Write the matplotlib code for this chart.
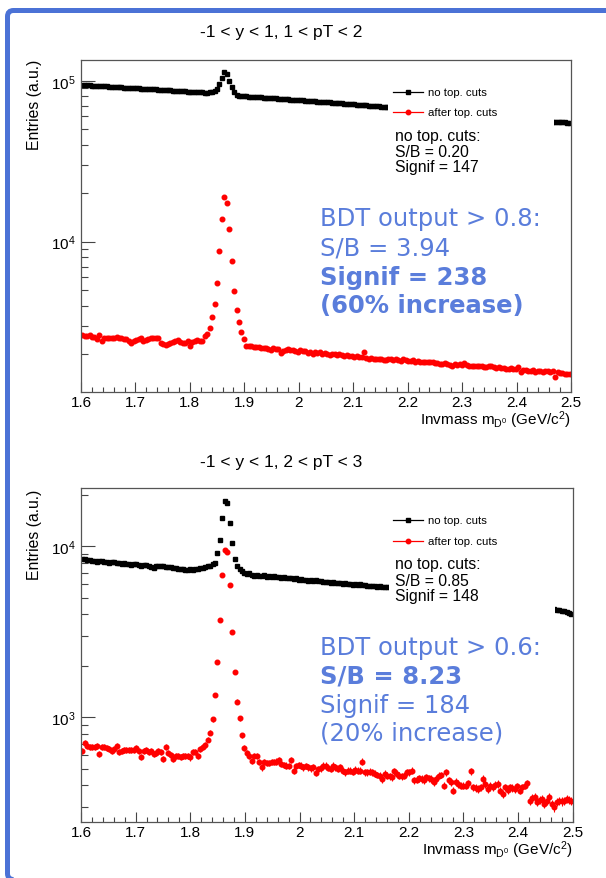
import numpy as np
import matplotlib
matplotlib.use("Agg")
import matplotlib.pyplot as plt
from matplotlib.patches import Rectangle, FancyBboxPatch
from matplotlib.lines import Line2D
from matplotlib.ticker import LogLocator, MultipleLocator, FuncFormatter, NullFormatter
from matplotlib.transforms import IdentityTransform

plt.rcParams["font.family"] = ["Liberation Sans", "DejaVu Sans"]
plt.rcParams["mathtext.fontset"] = "custom"
plt.rcParams["mathtext.rm"] = "Liberation Sans"
plt.rcParams["mathtext.it"] = "Liberation Sans:italic"
plt.rcParams["mathtext.bf"] = "Liberation Sans:bold"

# ---- binning: 200 bins of invariant mass, 1.6 - 2.5 GeV/c^2 ----
mass_edges = np.linspace(1.6, 2.5, 201)
mass = 0.5 * (mass_edges[:-1] + mass_edges[1:])

# ---- panel 1: -1 < y < 1, 1 < pT < 2 ----
p1_no_cuts = [
    94000, 93800, 93650, 93400, 93250, 93000, 92850, 92600, 92450, 92250,
    92100, 91850, 91700, 91450, 91300, 91050, 90900, 90700, 90500, 90350,
    90100, 89950, 89700, 89550, 89300, 89150, 88950, 88750, 88600, 88350,
    88200, 87950, 87800, 87550, 87400, 87200, 87000, 86850, 86600, 86450,
    86200, 86050, 85850, 85650, 85500, 85250, 85100, 84900, 84700, 84550,
    84400, 84400, 84650, 85100, 86300, 88700, 95400, 103500, 112700, 110000,
    99100, 91000, 84700, 82000, 80900, 80450, 80200, 80000, 79750, 79600,
    79350, 79200, 78950, 78800, 78550, 78400, 78150, 78000, 77750, 77600,
    77350, 77200, 76950, 76800, 76550, 76400, 76200, 76000, 75800, 75600,
    75400, 75250, 75000, 74850, 74600, 74450, 74200, 74050, 73800, 73650,
    73400, 73250, 73000, 72850, 72600, 72450, 72250, 72050, 71850, 71700,
    71450, 71300, 71050, 70900, 70700, 70500, 70300, 70150, 69900, 69750,
    69550, 69350, 69150, 68950, 68800, 68600, 68400, 68200, 68000, 67800,
    67600, 67400, 67200, 67000, 66800, 66600, 66400, 66200, 66000, 65800,
    65600, 65400, 65200, 65000, 64800, 64600, 64400, 64200, 64000, 63800,
    63600, 63400, 63200, 63000, 62800, 62600, 62400, 62200, 62000, 61800,
    61600, 61400, 61200, 61000, 60800, 60600, 60400, 60200, 60000, 59800,
    59600, 59400, 59200, 59000, 58800, 58600, 58400, 58200, 58000, 57800,
    57600, 57400, 57200, 57000, 56800, 56600, 56400, 56200, 56000, 55900,
    55800, 55700, 55600, 55500, 55400, 55300, 55200, 55100, 55000, 54900,
]
p1_after_cuts = [
    2634, 2600, 2590, 2634, 2548, 2560, 2487, 2634, 2427, 2520,
    2510, 2520, 2505, 2540, 2548, 2505, 2540, 2487, 2470, 2427,
    2338, 2427, 2460, 2487, 2505, 2427, 2450, 2480, 2520, 2505,
    2530, 2505, 2350, 2310, 2282, 2320, 2338, 2370, 2420, 2460,
    2370, 2350, 2338, 2400, 2260, 2370, 2400, 2450, 2420, 2400,
    2600, 2670, 2910, 3390, 4100, 5540, 8720, 13900, 18900, 17300,
    12000, 7550, 4940, 3780, 3150, 2750, 2490, 2260, 2250, 2240,
    2230, 2207, 2220, 2190, 2200, 2180, 2160, 2133, 2180, 2160,
    2150, 2040, 2100, 2110, 2150, 2120, 2130, 2090, 2075, 2110,
    2100, 2080, 2040, 2050, 2005, 2060, 2030, 2055, 2000, 2030,
    2010, 1990, 2020, 2000, 1980, 2010, 1970, 1960, 1990, 1950,
    1960, 1930, 1940, 1910, 1920, 2050, 1900, 1880, 1890, 1870,
    1880, 1860, 1870, 1850, 1840, 1860, 1880, 1850, 1860, 1830,
    1824, 1860, 1840, 1810, 1820, 1830, 1800, 1824, 1800, 1790,
    1782, 1800, 1790, 1800, 1770, 1760, 1739, 1750, 1760, 1730,
    1720, 1700, 1730, 1710, 1739, 1720, 1760, 1710, 1700, 1698,
    1700, 1690, 1680, 1700, 1660, 1670, 1690, 1680, 1670, 1650,
    1660, 1640, 1650, 1630, 1619, 1640, 1620, 1610, 1670, 1545,
    1590, 1600, 1580, 1570, 1590, 1560, 1570, 1580, 1560, 1575,
    1570, 1560, 1580, 1438, 1545, 1530, 1520, 1510, 1507, 1510,
]

# ---- panel 2: -1 < y < 1, 2 < pT < 3 ----
p2_no_cuts = [
    8450, 8400, 8380, 8300, 8250, 8200, 8150, 8260, 8200, 8100,
    8080, 8050, 8100, 8080, 8000, 7950, 7900, 7980, 7920, 7850,
    7820, 7900, 7880, 7760, 7700, 7800, 7750, 7720, 7600, 7500,
    7700, 7720, 7690, 7700, 7600, 7550, 7580, 7500, 7450, 7400,
    7420, 7390, 7300, 7250, 7350, 7300, 7400, 7380, 7450, 7500,
    7550, 7650, 7700, 7850, 8050, 9100, 10950, 14700, 18400, 17950,
    13700, 10500, 8500, 7700, 7350, 7200, 7000, 6900, 6950, 6800,
    6750, 6800, 6740, 6700, 6780, 6650, 6700, 6620, 6680, 6600,
    6650, 6550, 6600, 6500, 6580, 6550, 6450, 6500, 6400, 6450,
    6380, 6350, 6310, 6350, 6300, 6330, 6250, 6280, 6200, 6230,
    6180, 6150, 6200, 6120, 6080, 6150, 6050, 6100, 6020, 6060,
    5980, 6000, 5950, 5990, 5920, 5960, 5880, 5900, 5850, 5880,
    5820, 5840, 5800, 5780, 5800, 5760, 5740, 5710, 5690, 5670,
    5650, 5630, 5600, 5580, 5560, 5540, 5520, 5490, 5470, 5450,
    5430, 5410, 5380, 5360, 5340, 5320, 5300, 5270, 5250, 5230,
    5210, 5190, 5160, 5140, 5120, 5100, 5080, 5050, 5030, 5010,
    4990, 4970, 4940, 4920, 4900, 4880, 4860, 4830, 4810, 4790,
    4770, 4750, 4720, 4700, 4680, 4660, 4640, 4610, 4590, 4570,
    4550, 4530, 4500, 4480, 4460, 4440, 4420, 4390, 4370, 4350,
    4330, 4310, 4290, 4250, 4230, 4200, 4180, 4150, 4100, 4050,
]
p2_after_cuts = [
    639, 708, 683, 674, 669, 669, 683, 611, 674, 669,
    659, 653, 639, 653, 683, 630, 639, 647, 645, 645,
    645, 647, 662, 639, 585, 639, 647, 625, 639, 611,
    618, 639, 625, 571, 669, 618, 604, 571, 592, 597,
    588, 597, 597, 592, 582, 630, 625, 592, 653, 669,
    690, 741, 815, 975, 1349, 2120, 3715, 6800, 9540, 9250,
    5960, 3175, 1836, 1237, 988, 787, 661, 615, 597, 558,
    592, 597, 546, 511, 546, 541, 541, 546, 546, 551,
    566, 534, 527, 522, 518, 566, 488, 518, 527, 522,
    511, 518, 511, 504, 511, 473, 499, 504, 522, 522,
    506, 499, 522, 511, 499, 511, 488, 477, 488, 488,
    481, 494, 488, 488, 551, 477, 477, 481, 477, 467,
    460, 456, 436, 467, 456, 452, 446, 484, 467, 456,
    452, 456, 477, 477, 488, 427, 432, 440, 436, 427,
    446, 440, 436, 417, 436, 456, 460, 399, 477, 427,
    417, 373, 421, 408, 399, 399, 399, 410, 484, 390,
    385, 381, 390, 436, 408, 381, 399, 390, 403, 408,
    373, 356, 390, 377, 390, 385, 381, 395, 373, 390,
    399, 412, 326, 337, 341, 319, 330, 333, 312, 326,
    341, 312, 298, 319, 326, 322, 326, 333, 329, 326,
]

panels = [
    dict(title="-1 < y < 1, 1 < pT < 2", no_cuts=p1_no_cuts, after=p1_after_cuts,
         ylim=(1165, 134500), stats=["no top. cuts:", "S/B = 0.20", "Signif = 147"],
         bdt=[("BDT output > 0.8:", "normal"), ("S/B = 3.94", "normal"),
              ("Signif = 238", "bold"), ("(60% increase)", "bold")]),
    dict(title="-1 < y < 1, 2 < pT < 3", no_cuts=p2_no_cuts, after=p2_after_cuts,
         ylim=(245, 21900), stats=["no top. cuts:", "S/B = 0.85", "Signif = 148"],
         bdt=[("BDT output > 0.6:", "normal"), ("S/B = 8.23", "bold"),
              ("Signif = 184", "normal"), ("(20% increase)", "normal")]),
]

W, H = 606, 879
fig = plt.figure(figsize=(W / 100, H / 100), dpi=100)
fig.patch.set_facecolor("white")


def fx(px):
    return px / W


def fy(py):
    return 1 - py / H


BLUE_TEXT = "#5a7ddb"
BLUE_FRAME = "#4b72d6"

# slide frame
frame = FancyBboxPatch((7.5, -1.5), 620, H - 11.5 + 1.5,
                       boxstyle="round,pad=0,rounding_size=6",
                       transform=IdentityTransform(), fill=False,
                       edgecolor=BLUE_FRAME, linewidth=3.6, zorder=0)
fig.add_artist(frame)

layout = [
    dict(box=(81, 61, 571, 393), title_y=32, legend_y=(93, 113), stats_y=(137, 152.5, 167.5),
         bdt_y=(219, 248.5, 278.5, 306.5), xlabel_base=425, ylabel_top=60),
    dict(box=(81, 489.3, 572.7, 822.7), title_y=462, legend_y=(521, 542), stats_y=(565, 581, 597),
         bdt_y=(648, 677, 706, 734), xlabel_base=855, ylabel_top=490),
]

for p, lay in zip(panels, layout):
    l, t, r, b = lay["box"]
    ax = fig.add_axes([fx(l), fy(b), (r - l) / W, (b - t) / H])
    ax.set_xlim(1.6, 2.5)
    ax.set_yscale("log")
    ax.set_ylim(*p["ylim"])

    no_cuts = np.array(p["no_cuts"], dtype=float)
    after = np.array(p["after"], dtype=float)
    ax.plot(mass, no_cuts, ls="none", marker="s", ms=3.4, color="black",
            mec="black", zorder=2)
    # legend pane covering the histogram
    ax.add_patch(Rectangle((0.627, 0.55), 0.338, 0.42, transform=ax.transAxes,
                           facecolor="white", edgecolor="none", zorder=2.2))
    ax.errorbar(mass, after, yerr=np.sqrt(after), fmt="o", ms=3.3, color="#ff0000",
                mec="#ff0000", elinewidth=0.8, capsize=0, zorder=4)

    ax.xaxis.set_major_locator(MultipleLocator(0.1))
    ax.xaxis.set_minor_locator(MultipleLocator(0.02))
    ax.xaxis.set_major_formatter(FuncFormatter(lambda v, pos: f"{v:g}"))
    ax.yaxis.set_major_locator(LogLocator(base=10))
    ax.yaxis.set_minor_locator(LogLocator(base=10, subs=np.arange(2, 10)))
    ax.yaxis.set_minor_formatter(NullFormatter())
    ax.tick_params(axis="both", which="both", direction="in", top=False, right=False,
                   color="#444444", width=0.8, labelsize=11, labelcolor="black")
    ax.tick_params(axis="y", which="major", length=10, pad=4)
    ax.tick_params(axis="y", which="minor", length=5)
    ax.tick_params(axis="x", which="major", length=7, pad=2.5)
    ax.tick_params(axis="x", which="minor", length=3.5)
    for s in ax.spines.values():
        s.set_color("#555555")
        s.set_linewidth(0.9)
        s.set_zorder(5)

    fig.text(fx(281), fy(lay["title_y"]), p["title"], ha="center", va="center", fontsize=12.5)
    fig.text(fx(34), fy(lay["ylabel_top"]), "Entries (a.u.)", rotation=90,
             ha="center", va="top", fontsize=11.3)
    fig.text(fx(r), fy(lay["xlabel_base"]), r"Invmass m$_{\mathrm{D^{0}}}$ (GeV/c$^{2}$)",
             ha="right", va="baseline", fontsize=11)

    # legend entries
    for yy, col, mk, lab in zip(lay["legend_y"], ["black", "#ff0000"], ["s", "o"],
                                ["no top. cuts", "after top. cuts"]):
        fig.add_artist(Line2D([fx(393), fx(423)], [fy(yy), fy(yy)], color=col, lw=0.9,
                              transform=fig.transFigure, zorder=5))
        fig.add_artist(Line2D([fx(408)], [fy(yy)], color=col, marker=mk, ms=3.2, ls="none",
                              transform=fig.transFigure, zorder=6))
        fig.text(fx(428), fy(yy), lab, ha="left", va="center", fontsize=8.2, zorder=6)

    for yy, s in zip(lay["stats_y"], p["stats"]):
        fig.text(fx(395), fy(yy), s, ha="left", va="center", fontsize=11.3, zorder=6)

    for yy, (s, wgt) in zip(lay["bdt_y"], p["bdt"]):
        fig.text(fx(320), fy(yy), s, ha="left", va="center", fontsize=17.5,
                 color=BLUE_TEXT, fontweight=wgt, family="DejaVu Sans", zorder=7)

fig.savefig("out.png", dpi=100, facecolor="white")
